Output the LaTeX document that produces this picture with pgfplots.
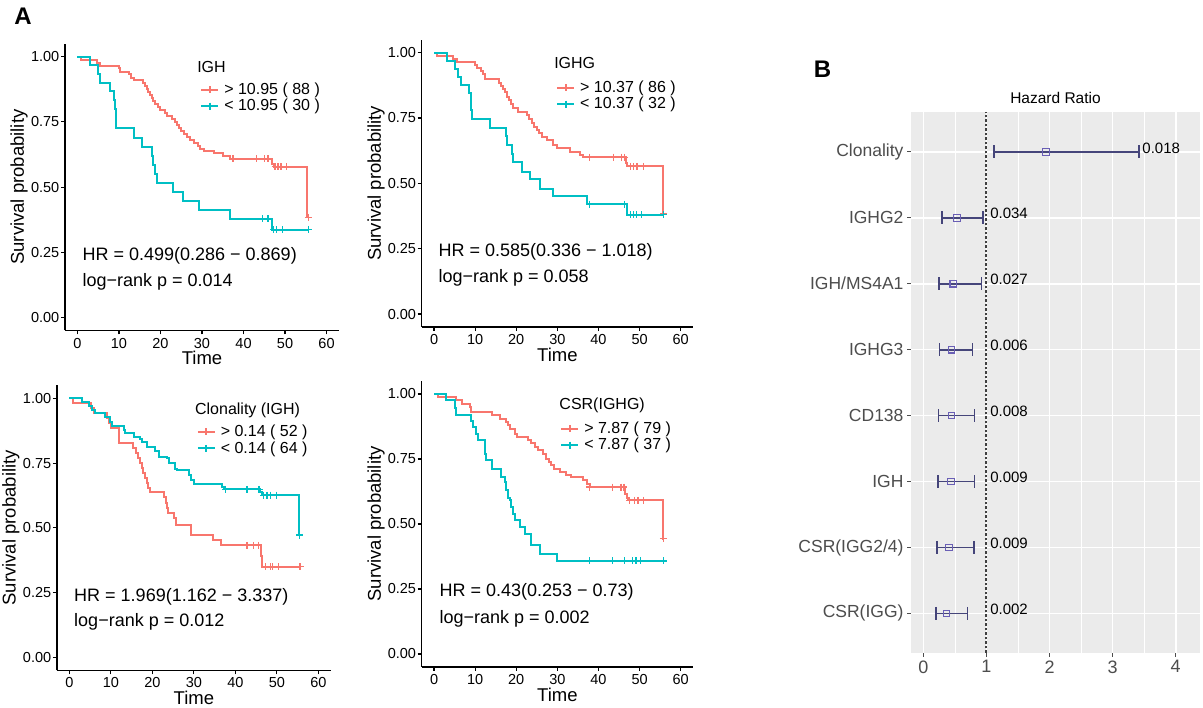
\documentclass[border=0pt]{standalone}
\usepackage{fontspec}
\setmainfont{Liberation Sans}
\usepackage{pgfplots}
\usepackage{pgfplotstable}
\pgfplotsset{compat=1.18}
\newcommand\fs[1]{\fontsize{#1}{#1}\selectfont}
\definecolor{kmred}{HTML}{F8766D}
\definecolor{kmteal}{HTML}{00BFC4}
\definecolor{fpbg}{HTML}{EBEBEB}
\definecolor{fpline}{HTML}{45457A}
\definecolor{fppt}{HTML}{6A5FB5}
\definecolor{fptext}{HTML}{4D4D4D}
\definecolor{fpdash}{HTML}{404040}
\pgfplotsset{
  /pgf/number format/assume math mode=true,
  km/.style={
    scale only axis, anchor=south west,
    xmin=-3, xmax=63, ymin=-0.05, ymax=1.05,
    axis lines=left, axis line style={-, line width=1.2pt, black},
    xtick={0,10,...,60}, ytick={0,0.25,0.5,0.75,1},
    yticklabel style={inner xsep=1.5pt, /pgf/number format/.cd, fixed, fixed zerofill, precision=2},
    tick align=outside, major tick length=4pt,
    tick style={black, line width=1.1pt},
    ticklabel style={font=\fs{14.5}},
    xlabel={Time}, ylabel={Survival probability},
    every axis x label/.style={at={(axis description cs:0.5,-0.096)}, anchor=center, font=\fs{18.5}},
    every axis y label/.style={at={(axis description cs:-0.168,0.5)}, rotate=90, anchor=center, font=\fs{18.5}},
    legend style={draw=none, fill=none, inner sep=0pt, font=\fs{16}, row sep=0pt,
      nodes={inner sep=0pt, text height=13pt, text depth=3.5pt}},
    legend cell align=left,
    legend image code/.code={\draw[mark repeat=2,mark phase=2,##1] plot coordinates {(0pt,0pt) (8.5pt,0pt) (17pt,0pt)}; \path (22pt,0pt);},
  },
  redc/.style={kmred, line width=2pt, const plot, forget plot},
  tealc/.style={kmteal, line width=2pt, const plot, forget plot},
  redm/.style={kmred, only marks, mark=+, mark size=3.5pt, line width=1.3pt, forget plot},
  tealm/.style={kmteal, only marks, mark=+, mark size=3.5pt, line width=1.3pt, forget plot},
  redl/.style={kmred, line width=2pt, mark=+, mark size=3.5pt},
  teall/.style={kmteal, line width=2pt, mark=+, mark size=3.5pt},
}
\begin{document}
\begin{tikzpicture}
\useasboundingbox[fill=white] (0pt,0pt) rectangle (1203pt,708pt);

\node[font=\bfseries\fs{24}] at (23pt,691.5pt) {A};
\node[font=\bfseries\fs{24}] at (822.5pt,639pt) {B};

% ---------------- Panel 1: IGH
\begin{axis}[km, at={(65pt,377.5pt)}, width=274pt, height=286.8pt,
  legend style={at={(axis description cs:0.493,0.811)}, anchor=west}]
\addplot[redc] table {
0 1.000
0.8 0.989
4.7 0.977
5.5 0.966
9.9 0.955
10.3 0.943
12.3 0.932
12.8 0.920
13.5 0.909
15.9 0.898
16.3 0.886
16.7 0.875
17.1 0.864
17.5 0.852
17.9 0.841
18.3 0.830
18.7 0.818
19.3 0.807
20.0 0.795
21.0 0.784
21.6 0.773
22.8 0.761
23.6 0.750
24.0 0.739
24.4 0.727
25.0 0.716
25.6 0.705
26.4 0.693
27.2 0.682
28.0 0.670
29.0 0.659
29.6 0.648
30.5 0.639
32.8 0.629
35.0 0.618
36.8 0.608
46.8 0.590
47.3 0.578
55.4 0.384
55.7 0.384
};
\addplot[redm] table {
37.5 0.608
43.1 0.608
45.0 0.608
45.9 0.608
47.6 0.578
48.3 0.578
49.0 0.578
50.4 0.578
55.6 0.384
};
\addplot[tealc] table {
0 1.000
3.1 0.967
4.9 0.933
5.5 0.900
7.9 0.867
8.7 0.833
9.0 0.800
9.2 0.767
9.4 0.726
13.5 0.690
15.5 0.655
17.9 0.620
18.3 0.586
18.7 0.552
19.1 0.517
22.9 0.483
25.4 0.448
29.2 0.414
36.8 0.379
46.8 0.336
55.6 0.336
};
\addplot[tealm] table {
44.6 0.379
45.9 0.379
47.3 0.336
47.9 0.336
49.4 0.336
55.6 0.336
};
\addlegendimage{redl}
\addlegendentry{> 10.95 ( 88 )}
\addlegendimage{teall}
\addlegendentry{< 10.95 ( 30 )}
\node[anchor=west, font=\fs{16}, inner sep=0pt] at (axis description cs:0.482,0.919) {IGH};
\node[anchor=west, font=\fs{18}, inner sep=0pt] at (axis cs:1.2,0.237) {HR = 0.499(0.286 − 0.869)};
\node[anchor=west, font=\fs{18}, inner sep=0pt] at (axis cs:1.2,0.137) {log−rank p = 0.014};
\end{axis}

% ---------------- Panel 2: IGHG
\begin{axis}[km, at={(421.7pt,380.9pt)}, width=271.3pt, height=287.5pt,
  legend style={at={(axis description cs:0.495,0.804)}, anchor=west}]
\addplot[redc] table {
0 1.000
0.8 0.988
4.7 0.977
5.5 0.965
10.0 0.954
10.4 0.942
11.5 0.930
12.0 0.919
12.4 0.899
15.7 0.885
16.2 0.872
16.7 0.860
17.2 0.848
17.7 0.832
18.2 0.820
18.7 0.804
19.3 0.787
20.5 0.774
22.5 0.761
23.0 0.748
23.8 0.730
24.4 0.717
25.0 0.704
25.6 0.692
26.2 0.679
27.4 0.666
29.0 0.647
29.8 0.634
33.1 0.620
35.5 0.608
36.3 0.600
46.7 0.578
47.0 0.565
55.8 0.383
56.0 0.383
};
\addplot[redm] table {
37.9 0.600
43.6 0.600
45.6 0.600
46.4 0.600
47.8 0.565
48.6 0.565
49.4 0.565
50.9 0.565
55.9 0.383
};
\addplot[tealc] table {
0 1.000
3.2 0.969
5.1 0.938
5.9 0.906
6.5 0.875
8.4 0.844
8.9 0.812
9.1 0.781
9.2 0.745
13.6 0.710
17.5 0.680
17.8 0.645
18.9 0.612
19.3 0.580
21.3 0.545
23.4 0.516
25.8 0.480
29.0 0.450
37.1 0.420
46.9 0.380
56.0 0.380
};
\addplot[tealm] table {
37.9 0.420
46.4 0.420
47.8 0.380
48.6 0.380
49.2 0.380
50.5 0.380
55.9 0.380
};
\addlegendimage{redl}
\addlegendentry{> 10.37 ( 86 )}
\addlegendimage{teall}
\addlegendentry{< 10.37 ( 32 )}
\node[anchor=west, font=\fs{16}, inner sep=0pt] at (axis description cs:0.488,0.918) {IGHG};
\node[anchor=west, font=\fs{18}, inner sep=0pt] at (axis cs:1.05,0.238) {HR = 0.585(0.336 − 1.018)};
\node[anchor=west, font=\fs{18}, inner sep=0pt] at (axis cs:1.05,0.137) {log−rank p = 0.058};
\end{axis}

% ---------------- Panel 3: Clonality (IGH)
\begin{axis}[km, at={(56.9pt,37.7pt)}, width=273.9pt, height=284.9pt,
  legend style={at={(axis description cs:0.510,0.808)}, anchor=west}]
\addplot[redc] table {
0 1.000
0.8 0.981
5.1 0.962
6.0 0.942
9.0 0.923
9.6 0.904
10.0 0.885
12.0 0.827
15.4 0.808
16.0 0.788
16.6 0.769
17.0 0.750
17.4 0.731
17.8 0.712
18.2 0.692
18.6 0.673
19.0 0.654
19.5 0.638
22.7 0.618
23.2 0.596
23.5 0.577
23.8 0.558
25.1 0.537
25.6 0.511
29.4 0.472
34.7 0.452
36.5 0.432
46.2 0.390
46.5 0.350
55.7 0.350
};
\addplot[redm] table {
42.8 0.432
44.4 0.432
45.6 0.432
47.3 0.350
48.4 0.350
49.0 0.350
50.4 0.350
55.6 0.350
};
\addplot[tealc] table {
0 1.000
3.1 0.987
4.7 0.970
5.5 0.955
6.3 0.942
8.7 0.929
9.9 0.910
10.3 0.893
13.1 0.879
13.5 0.865
15.5 0.852
17.1 0.843
17.5 0.833
18.7 0.813
20.7 0.795
21.5 0.775
23.5 0.768
23.9 0.749
25.5 0.729
25.9 0.723
28.8 0.705
29.2 0.684
30.0 0.671
36.8 0.658
37.2 0.649
46.0 0.637
46.4 0.626
55.4 0.472
55.6 0.472
};
\addplot[tealm] table {
37.6 0.649
42.8 0.649
45.7 0.649
46.8 0.626
47.6 0.626
48.4 0.626
50.0 0.626
55.5 0.472
};
\addlegendimage{redl}
\addlegendentry{> 0.14 ( 52 )}
\addlegendimage{teall}
\addlegendentry{< 0.14 ( 64 )}
\node[anchor=west, font=\fs{16}, inner sep=0pt] at (axis description cs:0.504,0.914) {Clonality (IGH)};
\node[anchor=west, font=\fs{18}, inner sep=0pt] at (axis cs:1.13,0.234) {HR = 1.969(1.162 − 3.337)};
\node[anchor=west, font=\fs{18}, inner sep=0pt] at (axis cs:1.13,0.137) {log−rank p = 0.012};
\end{axis}

% ---------------- Panel 4: CSR(IGHG)
\begin{axis}[km, at={(421.7pt,41pt)}, width=271.3pt, height=286pt,
  legend style={at={(axis description cs:0.510,0.805)}, anchor=west}]
\addplot[redc] table {
0 1.000
1.0 0.987
5.4 0.975
6.8 0.962
8.7 0.949
9.1 0.930
14.0 0.918
16.0 0.905
17.6 0.892
18.0 0.880
18.6 0.867
19.6 0.848
20.2 0.835
22.9 0.823
23.7 0.810
24.5 0.797
25.3 0.784
26.5 0.770
27.3 0.751
28.0 0.739
28.5 0.726
29.3 0.713
30.6 0.700
32.2 0.690
33.4 0.681
36.3 0.668
37.1 0.655
37.9 0.642
46.4 0.617
47.0 0.600
47.2 0.591
55.7 0.443
55.9 0.443
};
\addplot[redm] table {
37.9 0.642
43.5 0.642
45.5 0.642
46.2 0.642
47.6 0.591
48.8 0.591
49.6 0.591
50.9 0.591
55.8 0.443
};
\addplot[tealc] table {
0 1.000
3.0 0.975
5.0 0.946
5.4 0.918
9.1 0.895
9.4 0.873
10.3 0.847
10.7 0.822
12.3 0.795
12.5 0.770
12.7 0.745
14.0 0.710
16.4 0.681
17.2 0.662
17.6 0.630
18.0 0.600
18.4 0.591
18.8 0.565
19.2 0.540
19.6 0.514
20.8 0.488
22.1 0.460
23.7 0.421
25.7 0.386
29.8 0.358
55.8 0.358
};
\addplot[tealm] table {
37.9 0.358
43.5 0.358
46.3 0.358
48.3 0.358
49.1 0.358
50.3 0.358
55.8 0.358
};
\addlegendimage{redl}
\addlegendentry{> 7.87 ( 79 )}
\addlegendimage{teall}
\addlegendentry{< 7.87 ( 37 )}
\node[anchor=west, font=\fs{16}, inner sep=0pt] at (axis description cs:0.507,0.916) {CSR(IGHG)};
\node[anchor=west, font=\fs{18}, inner sep=0pt] at (axis cs:1.3,0.24) {HR = 0.43(0.253 − 0.73)};
\node[anchor=west, font=\fs{18}, inner sep=0pt] at (axis cs:1.3,0.137) {log−rank p = 0.002};
\end{axis}

% ---------------- Panel B: forest plot
\begin{axis}[scale only axis, anchor=south west, at={(911pt,55pt)},
  width=289pt, height=540.7pt,
  xmin=-0.196, xmax=4.385, ymin=0.4, ymax=8.6,
  axis background/.style={fill=fpbg},
  axis line style={draw=none},
  xtick={0,1,2,3,4}, minor xtick={0.5,1.5,2.5,3.5},
  ytick={1,2,3,4,5,6,7,8},
  yticklabels={CSR(IGG),CSR(IGG2/4),IGH,CD138,IGHG3,IGH/MS4A1,IGHG2,Clonality},
  xmajorgrids, xminorgrids, ymajorgrids,
  major grid style={white, line width=1.6pt},
  minor grid style={white, line width=0.8pt},
  xtick pos=bottom, ytick pos=left,
  tick align=outside, major tick length=4pt, minor tick length=0pt,
  tick style={fptext, line width=0.9pt},
  xticklabel style={font=\fs{18}, text=fptext},
  yticklabel style={font=\fs{17.5}, text=fptext},
  title={Hazard Ratio},
  title style={at={(axis description cs:0.5,1)}, anchor=center, yshift=8pt, font=\fs{15.5}},
  unbounded coords=jump, clip=false]
\addplot[fpdash, dash pattern=on 2.5pt off 2pt, line width=2pt] coordinates {(1,0.4) (1,8.6)};
\addplot[fpline, line width=1.7pt] table {
1.12 8
3.42 8
nan nan
0.29 7
0.94 7
nan nan
0.25 6
0.92 6
nan nan
0.255 5
0.78 5
nan nan
0.24 4
0.81 4
nan nan
0.235 3
0.81 3
nan nan
0.22 2
0.80 2
nan nan
0.195 1
0.70 1
};
\addplot[fpline, only marks, mark=|, mark size=6.5pt, line width=1.7pt] table {
1.12 8
3.42 8
0.29 7
0.94 7
0.25 6
0.92 6
0.255 5
0.78 5
0.24 4
0.81 4
0.235 3
0.81 3
0.22 2
0.80 2
0.195 1
0.70 1
};
\addplot[fppt, only marks, mark=square, mark size=3.3pt, line width=1.1pt, fill=fpbg] table {
1.94 8
0.53 7
0.475 6
0.445 5
0.445 4
0.435 3
0.41 2
0.365 1
};
\addplot[only marks, mark=none, nodes near coords, point meta=explicit symbolic,
  every node near coord/.style={anchor=west, inner sep=0pt, font=\fs{15}, black, yshift=4pt}]
  table[meta=p] {
x y p
3.47 8 0.018
1.057 7 0.034
1.057 6 0.027
1.057 5 0.006
1.057 4 0.008
1.057 3 0.009
1.057 2 0.009
1.057 1 0.002
};
\end{axis}
\end{tikzpicture}
\end{document}
